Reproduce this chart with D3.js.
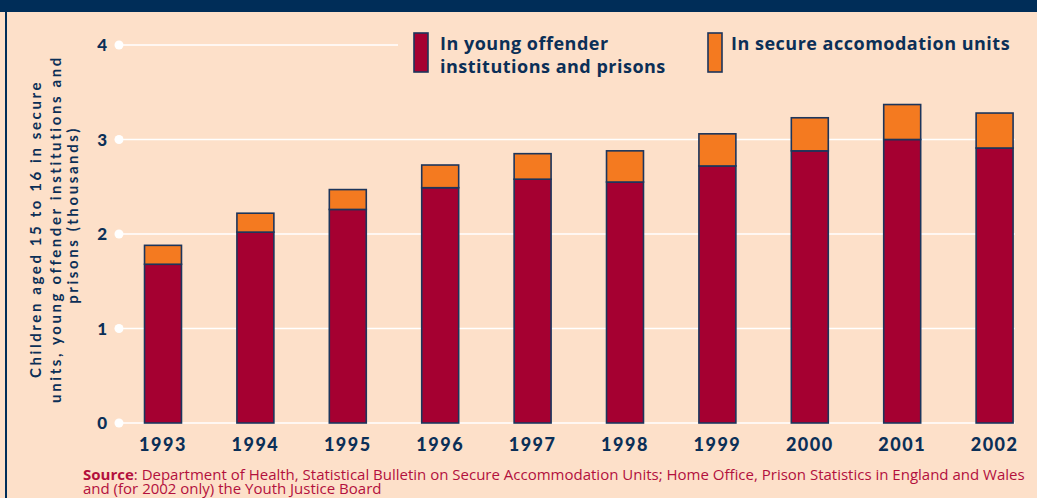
<!DOCTYPE html>
<html><head><meta charset="utf-8">
<script src="https://cdn.jsdelivr.net/npm/d3@7"></script>
<style>
html,body{margin:0;padding:0;background:#fde0c9;}
svg{display:block;}
</style></head>
<body>
<svg id="chart" width="1037" height="498"></svg>
<script>
const years = ["1993","1994","1995","1996","1997","1998","1999","2000","2001","2002"];
const youngOffender = [1.68, 2.02, 2.26, 2.49, 2.58, 2.55, 2.72, 2.88, 3.00, 2.91];
const secureUnits   = [0.20, 0.20, 0.21, 0.24, 0.27, 0.33, 0.34, 0.35, 0.37, 0.37];
const yTicks = [0, 1, 2, 3, 4];
const seriesNames = ["In young offender institutions and prisons", "In secure accomodation units"];
const legendLines = [["In young offender", "institutions and prisons"], ["In secure accomodation units"]];
const yTitleLines = ["Children aged 15 to 16 in secure", "units, young offender institutions and", "prisons (thousands)"];
const sourceLines = ["Department of Health, Statistical Bulletin on Secure Accommodation Units; Home Office, Prison Statistics in England and Wales", "and (for 2002 only) the Youth Justice Board"];

const NAVY = "#0b2f57", RED = "#a50031", ORANGE = "#f47a20", BG = "#fde0c9", SRC = "#b3103d";
const FONT = "Lato, 'Open Sans', sans-serif";
const FONT2 = "'Open Sans', Lato, sans-serif";

const svg = d3.select("#chart");
svg.append("rect").attr("x",0).attr("y",0).attr("width",1037).attr("height",498).attr("fill",BG);
svg.append("rect").attr("x",0).attr("y",0).attr("width",1037).attr("height",12).attr("fill","#002d58");
svg.append("rect").attr("x",5).attr("y",12).attr("width",2).attr("height",486).attr("fill","#002d58");

const data = years.map((y,i)=>({year:y, a:youngOffender[i], b:secureUnits[i]}));
const stack = d3.stack().keys(["a","b"])(data);

const x = d3.scaleBand().domain(years).range([116.8, 1040.8]).paddingInner(0.6).paddingOuter(0.3);
const y = d3.scaleLinear().domain([0,4]).range([423, 45]);

// gridlines
const g = svg.append("g");
g.selectAll("line.grid").data(yTicks).join("line")
  .attr("x1",119).attr("x2",d=> d===4 ? 398 : 1015)
  .attr("y1",d=>y(d)).attr("y2",d=>y(d))
  .attr("stroke","#ffffff").attr("stroke-width",1.6);
g.selectAll("circle.tick").data(yTicks).join("circle")
  .attr("cx",119).attr("cy",d=>y(d)).attr("r",4.5).attr("fill","#ffffff");
g.selectAll("text.ylab").data(yTicks).join("text")
  .attr("x",107).attr("y",d=>y(d)+6).attr("text-anchor","end")
  .attr("font-family",FONT).attr("font-weight",900).attr("font-size",17).attr("fill",NAVY)
  .text(d=>d);

// bars
const colors = [RED, ORANGE];
stack.forEach((s,si)=>{
  svg.append("g").selectAll("rect").data(s).join("rect")
    .attr("x",d=>x(d.data.year)).attr("width",x.bandwidth())
    .attr("y",d=>y(d[1])).attr("height",d=>y(d[0])-y(d[1]))
    .attr("fill",colors[si]).attr("stroke","#1c355c").attr("stroke-width",1.6);
});

// x labels
svg.append("g").selectAll("text").data(years).join("text")
  .attr("x",d=>x(d)+x.bandwidth()/2).attr("y",451).attr("text-anchor","middle")
  .attr("font-family",FONT).attr("font-weight",900).attr("font-size",18).attr("letter-spacing",1.5)
  .attr("fill",NAVY).text(d=>d);

// y title
const yt = [{x:41,y:229},{x:61,y:229},{x:78,y:215}];
yTitleLines.forEach((t,i)=>{
  svg.append("text").attr("transform",`translate(${yt[i].x},${yt[i].y}) rotate(-90)`)
    .attr("text-anchor","middle").attr("font-family",FONT).attr("font-weight",700)
    .attr("font-size",15).attr("letter-spacing",2.6).attr("fill",NAVY).text(t);
});

// legend
const legendX = [414, 708];
const legendTextDx = [26, 23];
legendX.forEach((lx,i)=>{
  svg.append("rect").attr("x",lx).attr("y",33).attr("width",14).attr("height",39)
    .attr("fill",colors[i]).attr("stroke","#1c355c").attr("stroke-width",1.6);
  const t = svg.append("text").attr("x",lx+legendTextDx[i]).attr("y",50)
      .attr("font-family",FONT2).attr("font-weight",700).attr("font-size",18).attr("letter-spacing",0.5)
      .attr("fill",NAVY);
  legendLines[i].forEach((line,j)=>{
    t.append("tspan").attr("x",lx+legendTextDx[i]).attr("dy", j===0 ? 0 : 23).text(line);
  });
});

// source
const src = svg.append("text").attr("x",83).attr("y",480)
  .attr("font-family",FONT2).attr("font-size",15).attr("fill",SRC);
src.append("tspan").attr("font-weight",700).text("Source");
src.append("tspan").text(": " + sourceLines[0]);
src.append("tspan").attr("x",83).attr("dy",14).text(sourceLines[1]);
</script>
</body></html>
